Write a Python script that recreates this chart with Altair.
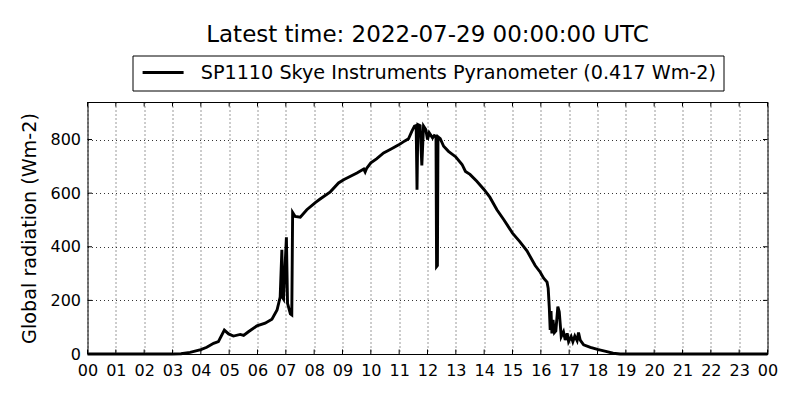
import altair as alt
import pandas as pd

# Time of day (hours, UTC) and global radiation (Wm-2)
hours = [0.0, 3.0, 3.3, 3.62, 4.0, 4.21, 4.45, 4.62, 4.83, 4.98, 5.15, 5.39, 5.51, 5.68,
         5.98, 6.27, 6.51, 6.69, 6.80, 6.86, 6.89, 6.92, 7.02, 7.06, 7.16, 7.21, 7.24,
         7.33, 7.51, 7.74, 8.04, 8.21, 8.57, 8.86, 9.04, 9.3, 9.51, 9.75, 9.8, 9.85,
         10.0, 10.2, 10.45, 10.7, 11.0, 11.2, 11.33, 11.45, 11.54, 11.6, 11.63, 11.66,
         11.74, 11.8, 11.86, 11.94, 12.0, 12.06, 12.18, 12.24, 12.30, 12.32, 12.35,
         12.37, 12.45, 12.57, 12.74, 13.0, 13.22, 13.34, 13.5, 13.74, 14.0, 14.2, 14.45,
         14.7, 15.0, 15.25, 15.51, 15.8, 15.98, 16.1, 16.22, 16.26, 16.3, 16.33, 16.36,
         16.39, 16.43, 16.48, 16.53, 16.6, 16.65, 16.72, 16.8, 16.86, 16.93, 16.98,
         17.07, 17.13, 17.2, 17.28, 17.33, 17.39, 17.51, 17.75, 18.0, 18.33, 18.55,
         18.8, 24.0]
values = [0, 0, 1, 6, 16, 25, 40, 46, 89, 75, 67, 73, 69, 83,
          105, 115, 130, 164, 212, 389, 210, 205, 435, 189, 150, 146, 528,
          513, 510, 538, 565, 578, 605, 638, 650, 664, 675, 690, 679, 692,
          713, 728, 750, 764, 781, 795, 803, 831, 850, 852, 613, 856,
          852, 703, 850, 837, 800, 825, 806, 815, 812, 326, 330,
          810, 803, 775, 756, 735, 707, 681, 670, 644, 613, 585, 538,
          500, 451, 420, 385, 330, 305, 283, 268, 245, 170, 90, 160,
          77, 127, 80, 86, 177, 158, 65, 83, 52, 77, 46,
          65, 46, 67, 50, 80, 52, 34, 25, 17, 9, 3,
          0, 0]
series_name = "SP1110 Skye Instruments Pyranometer (0.417 Wm-2)"
title_text = "Latest time: 2022-07-29 00:00:00 UTC"
y_title = "Global radiation (Wm-2)"
x_ticks = list(range(25))
y_ticks = [0, 200, 400, 600, 800]

df = pd.DataFrame({"hour": hours, "rad": values, "series": [series_name] * len(hours)})
xt = pd.DataFrame({"hour": x_ticks})
yt = pd.DataFrame({"rad": y_ticks})

FONT = "DejaVu Sans"
W, H = 680, 252
TICK = 4.5

x_enc = alt.X("hour:Q",
              scale=alt.Scale(domain=[0, 24], nice=False, zero=False),
              axis=alt.Axis(values=x_ticks, title=None, grid=True,
                            labelExpr="(datum.value % 24 < 10 ? '0' : '') + (datum.value % 24)",
                            labelOverlap=False, labelFlush=False, ticks=False, tickSize=0,
                            labelPadding=8, domain=False))
y_enc = alt.Y("rad:Q",
              scale=alt.Scale(domain=[0, 940], nice=False),
              axis=alt.Axis(values=y_ticks, title=y_title, grid=True,
                            labelFlush=False, labelOverlap=False, ticks=False, tickSize=0,
                            labelPadding=7, domain=False,
                            titleFontSize=19.2, titleFont=FONT, titleFontWeight="normal",
                            titleColor="black", titleX=-58, titleY=126,
                            titleAngle=270, titleBaseline="middle", titleAlign="center"))

line = alt.Chart(df).mark_line(strokeWidth=2.9, color="black", strokeJoin="miter").encode(
    x=x_enc,
    y=y_enc,
    color=alt.Color("series:N", scale=alt.Scale(range=["black"]),
                    legend=alt.Legend(orient="none", legendX=45, legendY=-46.5,
                                      title=None, strokeColor="black", fillColor="white",
                                      padding=7.5, symbolType="M -1,0 L 4.857,0",
                                      symbolSize=196, symbolStrokeWidth=3,
                                      labelFontSize=19.2, labelFont=FONT,
                                      labelColor="black", labelOffset=41.5,
                                      labelLimit=0, cornerRadius=0)),
)

tick_style = dict(color="black", strokeWidth=1)
xb = alt.Chart(xt).mark_rule(**tick_style).encode(
    x=x_enc, y=alt.value(H), y2=alt.value(H - TICK))
xtp = alt.Chart(xt).mark_rule(**tick_style).encode(
    x=x_enc, y=alt.value(0), y2=alt.value(TICK))
yl = alt.Chart(yt).mark_rule(**tick_style).encode(
    y=y_enc, x=alt.value(0), x2=alt.value(TICK))
yr = alt.Chart(yt).mark_rule(**tick_style).encode(
    y=y_enc, x=alt.value(W), x2=alt.value(W - TICK))

chart = alt.layer(line, xb, xtp, yl, yr).properties(
    width=W, height=H,
    title=alt.TitleParams(title_text, fontSize=23, font=FONT, fontWeight="normal",
                          color="black", anchor="middle", offset=8),
    autosize=alt.AutoSizeParams(type="none"),
    padding={"left": 79.5, "top": 94, "right": 24.5, "bottom": 38},
).configure_view(
    stroke="black", strokeWidth=1
).configure_axis(
    labelFont=FONT, labelFontSize=16, labelColor="black",
    gridColor="black", gridWidth=0.8, gridDash=[1, 3], gridOpacity=1
)

chart.save("out.html", embed_options={"renderer": "svg", "actions": False})
